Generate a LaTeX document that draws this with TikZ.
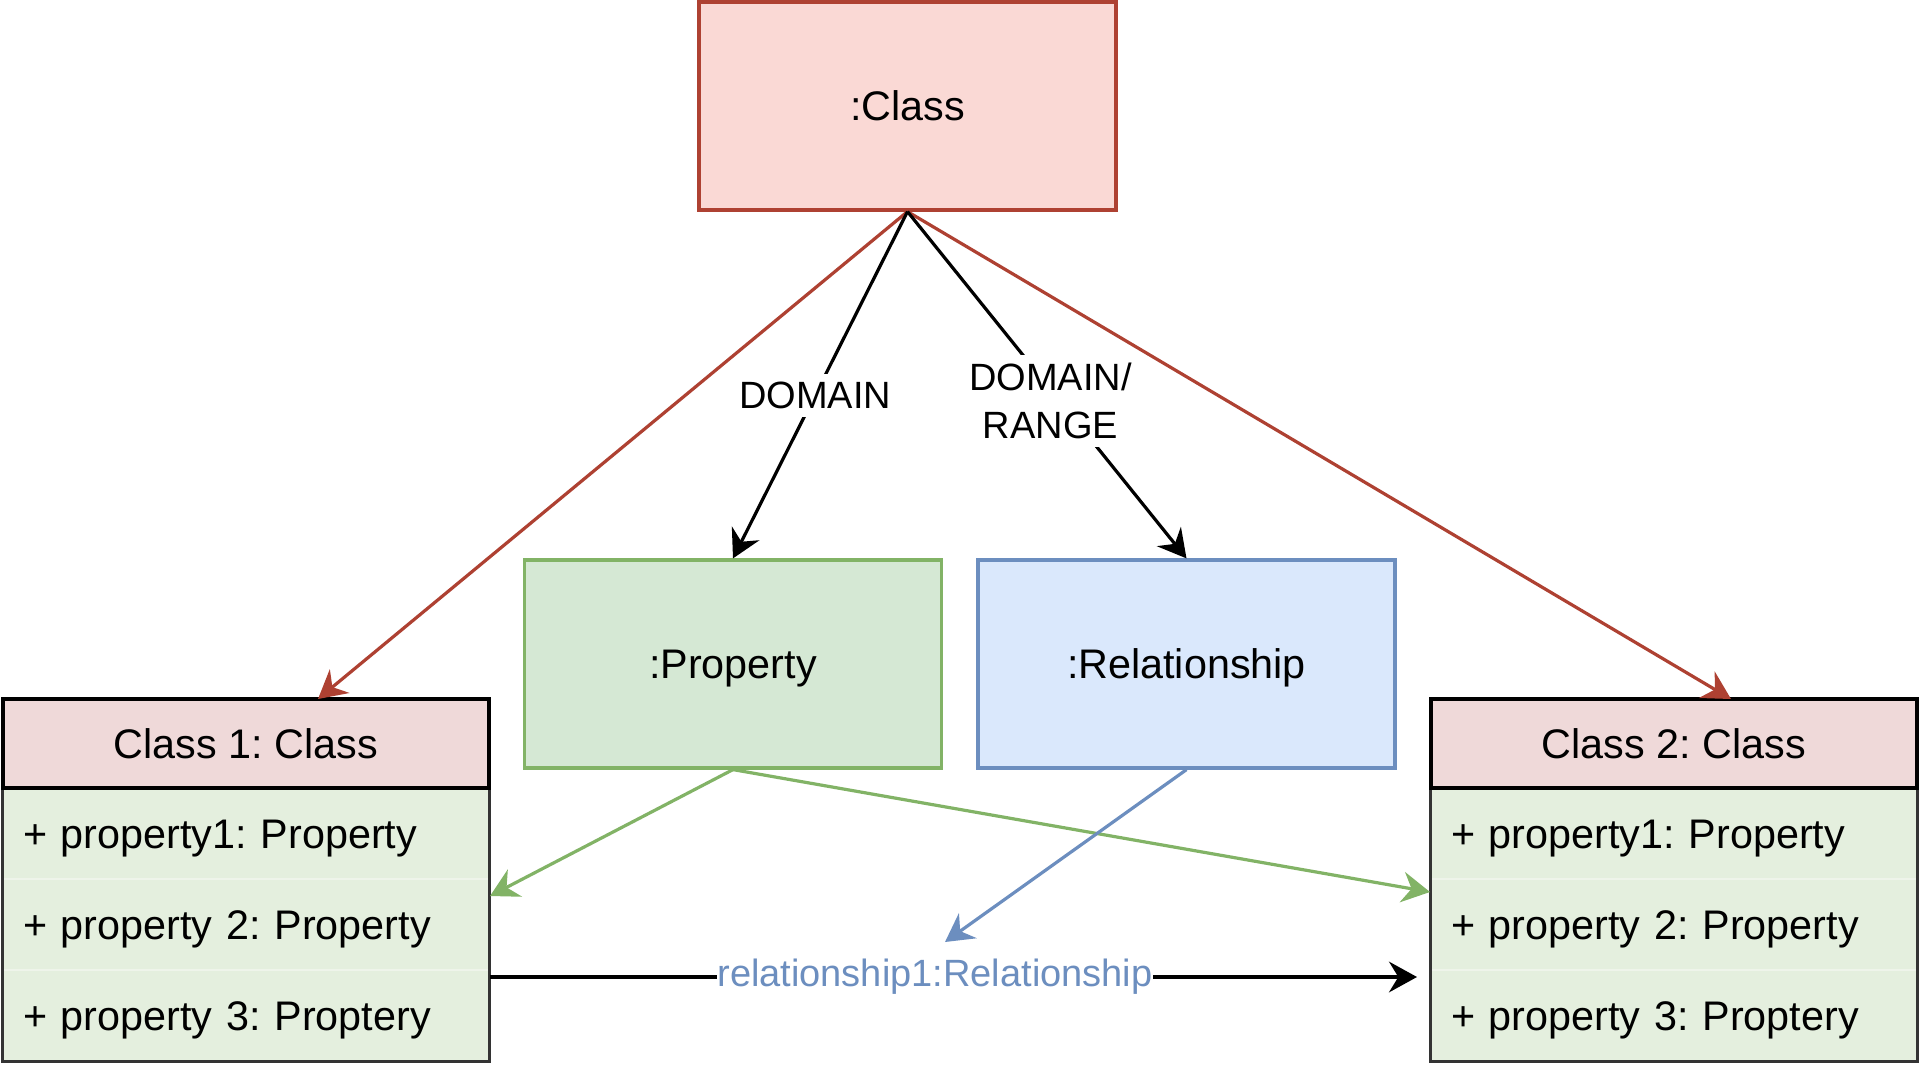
\documentclass[tikz,border=0pt]{standalone}
\usepackage{fontspec}
\setmainfont{Liberation Sans}
\usetikzlibrary{arrows.meta}
\frenchspacing
\definecolor{redD}{HTML}{AE4132}
\definecolor{redF}{HTML}{FAD9D5}
\definecolor{grnD}{HTML}{82B366}
\definecolor{grnF}{HTML}{D5E8D4}
\definecolor{bluD}{HTML}{6C8EBF}
\definecolor{bluF}{HTML}{DAE8FC}
\definecolor{hdrF}{HTML}{EFD9D9}
\definecolor{rowF}{HTML}{E4EFDE}
\definecolor{rowSep}{HTML}{EEF4EA}
\definecolor{bodyD}{HTML}{333333}
\begin{document}
\frenchspacing
\begin{tikzpicture}[x=0.75pt,y=-0.75pt,
  bigbox/.style={rectangle, line width=2.4pt, minimum width=312.75pt, minimum height=156pt, inner sep=0pt, text height=22.2pt, text depth=0pt, font=\fontsize{31}{37}\selectfont},
  hdr/.style={rectangle, draw=black, fill=hdrF, line width=2.6pt, minimum width=364.5pt, minimum height=66.75pt, inner sep=0pt, text height=22.2pt, text depth=0pt, font=\fontsize{31}{37}\selectfont},
  rowbox/.style={rectangle, draw=rowSep, fill=rowF, line width=0.8pt, minimum height=68.25pt, text width=334.5pt, inner xsep=15pt, inner ysep=0pt, align=left, text height=22.2pt, text depth=0pt, font=\fontsize{31}{37}\selectfont},
  conn/.style={line width=2.4pt, -{Stealth[length=21pt,width=23pt,inset=7pt]}},
  lbl/.style={fill=white, inner sep=6pt, font=\fontsize{28.5}{36}\selectfont, align=center},
  rlbl/.style={fill=white, inner sep=0pt, text=bluD, font=\fontsize{28.5}{36}\selectfont},
]
\useasboundingbox (0,0) rectangle (1921,1074);

% top-level boxes
\node[bigbox, draw=redD, fill=redF] (cls) at (907.5,106) {:Class};
\node[bigbox, draw=grnD, fill=grnF] (prop) at (733,664) {:Property};
\node[bigbox, draw=bluD, fill=bluF] (rel) at (1186.5,664) {:Relationship};

% Class 1
\node[rowbox] (c1r1) at (246,833.5) {+ property1: Property};
\node[rowbox] (c1r2) at (246,924.5) {+ property 2: Property};
\node[rowbox] (c1r3) at (246,1015.5) {+ property 3: Proptery};
\draw[draw=bodyD, line width=1.6pt] (c1r1.north west) rectangle (c1r3.south east);
\node[hdr] (c1h) at (246,743.5) {Class 1: Class};

% Class 2
\node[rowbox] (c2r1) at (1674,833.5) {+ property1: Property};
\node[rowbox] (c2r2) at (1674,924.5) {+ property 2: Property};
\node[rowbox] (c2r3) at (1674,1015.5) {+ property 3: Proptery};
\draw[draw=bodyD, line width=1.6pt] (c2r1.north west) rectangle (c2r3.south east);
\node[hdr] (c2h) at (1674,743.5) {Class 2: Class};

% connector end points
\coordinate (c1in) at (318,699);
\coordinate (c2in) at (1731,699);
\coordinate (c1g) at (490,896);
\coordinate (c2g) at (1430,892);
\coordinate (btip) at (945,942);
\coordinate (c1r) at (490,977);
\coordinate (c2r) at (1417,977);

% connectors
\draw[conn, draw=redD] (cls.south) -- (c1in);
\draw[conn, draw=redD] (cls.south) -- (c2in);
\draw[conn] (cls.south) -- node[lbl, pos=0.53]{DOMAIN} (prop.north);
\draw[conn] (cls.south) -- node[lbl, pos=0.546, xshift=-7pt]{DOMAIN/\\RANGE} (rel.north);
\draw[conn, draw=grnD] (prop.south) -- (c1g);
\draw[conn, draw=grnD] (prop.south) -- (c2g);
\draw[conn, draw=bluD] (rel.south) -- (btip);
\draw[conn] (c1r) -- node[rlbl, pos=0.48]{relationship1:Relationship} (c2r);
\end{tikzpicture}
\end{document}
